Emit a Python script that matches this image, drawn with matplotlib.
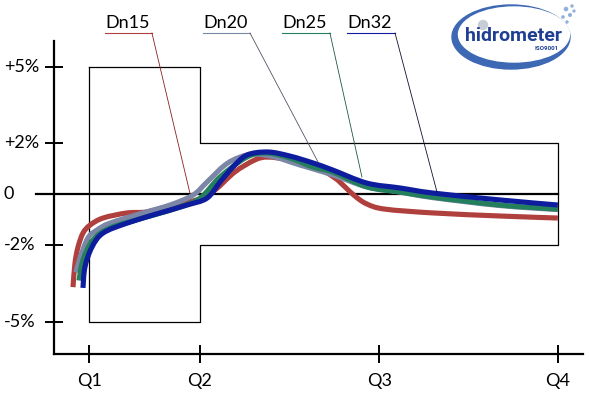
import matplotlib
matplotlib.use("Agg")
import matplotlib.pyplot as plt
from matplotlib.patches import Ellipse, Circle, PathPatch
from matplotlib.path import Path
import matplotlib.transforms as mtransforms

# ---------------- data ----------------
q_labels = ["Q1", "Q2", "Q3", "Q4"]
q_pos = [1.0, 2.0, 3.62, 5.23]

y_ticks = [5, 2, 0, -2, -5]
y_labels = ["+5%", "+2%", "0", "-2%", "-5%"]

series_names = ["Dn15", "Dn20", "Dn25", "Dn32"]

dn15_x = [0.853, 0.871, 0.898, 0.943, 1.006, 1.124, 1.341, 1.521, 1.729, 2.000, 2.136,
          2.316, 2.497, 2.614, 2.813, 3.039, 3.219, 3.310, 3.400, 3.508, 3.670, 4.104, 4.709, 5.233]
dn15_y = [-3.64, -2.69, -2.07, -1.52, -1.21, -0.93, -0.73, -0.69, -0.46, -0.18, 0.17,
          0.88, 1.35, 1.46, 1.35, 1.11, 0.64, 0.29, -0.07, -0.38, -0.58, -0.73, -0.85, -0.93]

dn20_x = [0.880, 0.916, 0.988, 1.070, 1.187, 1.485, 1.729, 1.937, 2.063, 2.226, 2.361,
          2.497, 2.677, 2.903, 3.201, 3.508, 3.806, 4.104, 4.709, 5.233]
dn20_y = [-3.06, -2.50, -1.71, -1.40, -1.13, -0.73, -0.42, -0.03, 0.48, 1.15, 1.46,
          1.58, 1.46, 1.15, 0.76, 0.29, 0.09, -0.13, -0.44, -0.60]

dn25_x = [0.907, 0.943, 1.033, 1.187, 1.485, 1.792, 2.000, 2.181, 2.424, 2.605, 2.813,
          3.021, 3.201, 3.508, 3.806, 4.104, 4.709, 5.233]
dn25_y = [-3.38, -2.58, -1.79, -1.32, -0.93, -0.54, -0.15, 0.68, 1.46, 1.62, 1.42,
          1.07, 0.87, 0.29, 0.09, -0.11, -0.42, -0.58]

dn32_x = [0.943, 0.961, 1.024, 1.124, 1.341, 1.639, 1.883, 2.063, 2.181, 2.298, 2.424,
          2.614, 2.813, 3.021, 3.201, 3.508, 3.806, 4.104, 4.709, 5.233]
dn32_y = [-3.67, -2.85, -2.07, -1.52, -1.13, -0.73, -0.42, -0.15, 0.48, 1.07, 1.54,
          1.66, 1.50, 1.23, 0.95, 0.44, 0.25, 0.05, -0.22, -0.42]

# tolerance envelope: +-5% between Q1 and Q2, +-2% between Q2 and Q4
lower_limit = 5
upper_limit = 2

# ---------------- styling ----------------
colors = ["#b0403e", "#7c86a6", "#24805c", "#0e1c9e"]
leader_colors = ["#8a2020", "#555566", "#1d5a40", "#101030"]
FONT = "Lato"


def smooth_path(x, y):
    """Smooth drawing through the read points (Catmull-Rom as cubic Bezier)."""
    pts = list(zip(x, y))
    verts = [pts[0]]
    codes = [Path.MOVETO]
    n = len(pts)
    for i in range(n - 1):
        p0 = pts[i - 1] if i > 0 else pts[i]
        p1 = pts[i]
        p2 = pts[i + 1]
        p3 = pts[i + 2] if i + 2 < n else pts[i + 1]
        c1 = (p1[0] + (p2[0] - p0[0]) / 6, p1[1] + (p2[1] - p0[1]) / 6)
        c2 = (p2[0] - (p3[0] - p1[0]) / 6, p2[1] - (p3[1] - p1[1]) / 6)
        verts += [c1, c2, p2]
        codes += [Path.CURVE4] * 3
    return Path(verts, codes)


fig = plt.figure(figsize=(5.89, 3.93), dpi=100)
fig.patch.set_facecolor("white")
ax = fig.add_axes([0.0922, 0.0992, 0.8976, 0.7964])
ax.set_xlim(0.684, 5.46)
ax.set_ylim(-6.263, 6.012)
ax.set_facecolor("none")

for s in ["top", "right"]:
    ax.spines[s].set_visible(False)
for s in ["left", "bottom"]:
    ax.spines[s].set_linewidth(1.6)
    ax.spines[s].set_color("black")

ax.set_xticks(q_pos)
ax.set_xticklabels([])
ax.set_yticks([5, 2, -2, -5])
ax.set_yticklabels([])
ax.tick_params(direction="inout", length=13, width=1.4, color="black")

# envelope
Q1, Q2, Q4 = q_pos[0], q_pos[1], q_pos[3]
ex = [Q1, Q2, Q2, Q4, Q4, Q2, Q2, Q1, Q1]
ey = [lower_limit, lower_limit, upper_limit, upper_limit, -upper_limit, -upper_limit,
      -lower_limit, -lower_limit, lower_limit]
ax.plot(ex, ey, color="black", lw=0.9, zorder=2)

# zero line
ax.plot([0.519, Q4], [0, 0], color="black", lw=1.6, zorder=2, clip_on=False)

# curves
xs = [dn15_x, dn20_x, dn25_x, dn32_x]
ys = [dn15_y, dn20_y, dn25_y, dn32_y]
for i, (x, y) in enumerate(zip(xs, ys)):
    ax.add_patch(PathPatch(smooth_path(x, y), facecolor="none", edgecolor=colors[i],
                           lw=3.7, capstyle="butt", joinstyle="round", zorder=3 + i))

# axis labels
for p, lab in zip(q_pos, q_labels):
    ax.text(p, -7.5, lab, ha="center", va="baseline", fontsize=13, family=FONT)

trans = mtransforms.blended_transform_factory(fig.transFigure, ax.transData)
for v, lab in zip(y_ticks, y_labels):
    ax.text(4 / 589, v, lab, ha="left", va="center", fontsize=13, family=FONT,
            transform=trans)

# series labels with leaders
label_left = [1.142, 2.027, 2.740, 3.328]
label_right = [1.566, 2.452, 3.174, 3.762]
leader_end = [(1.909, 0.05), (3.066, 1.27), (3.463, 0.68), (4.141, 0.09)]
for i, name in enumerate(series_names):
    ax.text(label_left[i], 6.52, name, ha="left", va="baseline", fontsize=13,
            family=FONT, clip_on=False)
    ax.plot([label_left[i], label_right[i]], [6.325, 6.325], color=colors[i],
            lw=0.8, clip_on=False, zorder=2)
    ax.plot([label_right[i], leader_end[i][0]], [6.325, leader_end[i][1]],
            color=leader_colors[i], lw=0.6, clip_on=False, zorder=8)

# logo
lax = fig.add_axes([448 / 589, (393 - 75) / 393, 130 / 589, 75 / 393])
lax.set_xlim(0, 130)
lax.set_ylim(0, 75)
lax.axis("off")
lax.add_patch(Ellipse((63, 38), 118, 64, color="#3d68b4"))
lax.add_patch(Ellipse((66, 40.5), 111, 55, color="white"))
lax.add_patch(Circle((35, 50), 4.5, color="#c8ccd6"))
for (bx, by, r) in [(118, 66, 1.6), (122, 60, 1.3), (115, 58, 1.1), (124, 69, 1.0),
                    (119, 53, 1.0), (126, 64, 0.9)]:
    lax.add_patch(Circle((bx, by), r, color="#8fb0dc"))
lax.text(65, 34, "hidrometer", ha="center", va="baseline", fontsize=14,
         fontweight="bold", color="#1f3f94", family="Roboto")
lax.text(99, 25, "ISO9001", ha="center", va="baseline", fontsize=4.5,
         fontweight="bold", color="#1f3f94", family="Roboto")

fig.savefig("out.png", dpi=100, facecolor="white")
